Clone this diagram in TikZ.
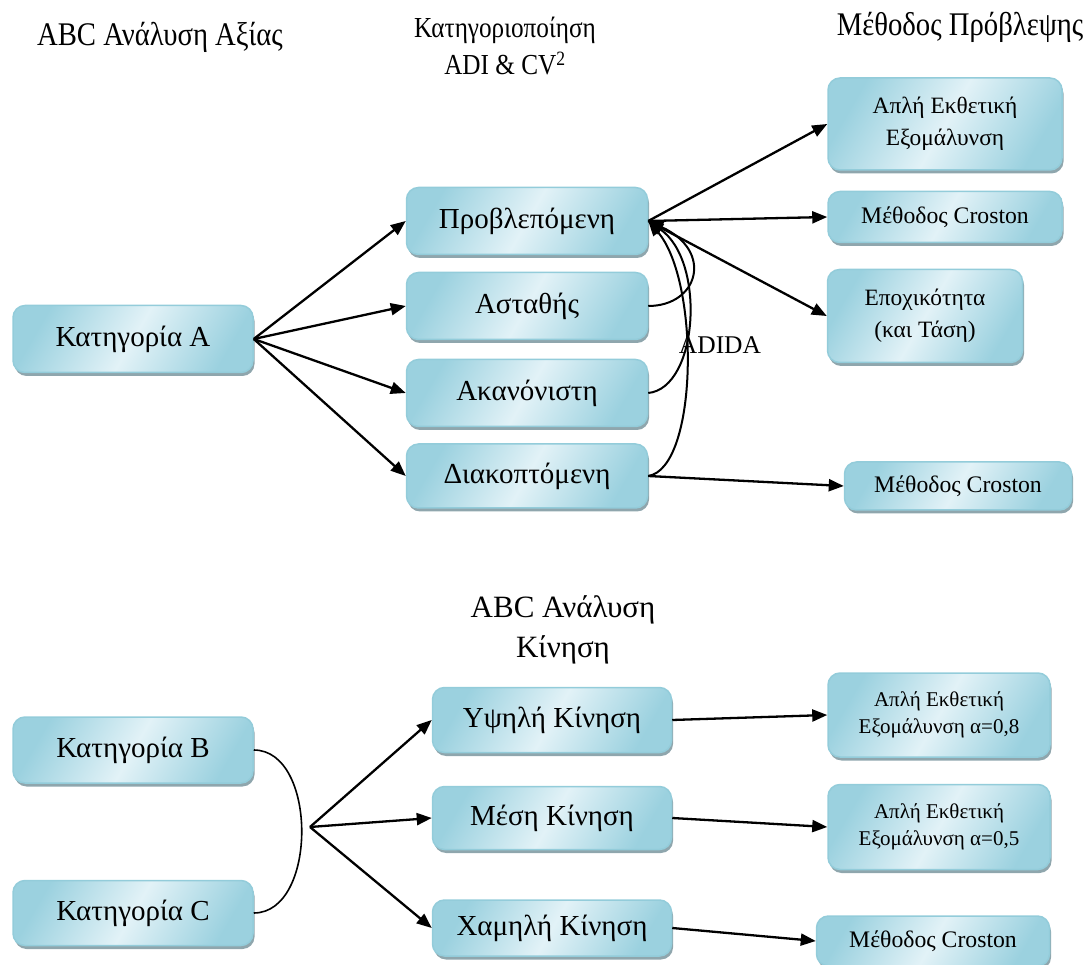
\documentclass[tikz,border=0pt]{standalone}
\usepackage{fontspec}
\setmainfont{Liberation Serif}
\newfontfamily\condfont[FakeStretch=0.87]{Liberation Serif}
\usetikzlibrary{arrows.meta,shadows}
\definecolor{bEdge}{HTML}{9BD1DF}
\definecolor{bMid}{HTML}{E2F2F7}
\definecolor{bDraw}{HTML}{93CCDA}
\definecolor{bShadow}{HTML}{8FA6AD}
\tikzset{
  box/.style={rectangle, rounded corners=12pt, draw=bDraw, line width=1.5pt,
    left color=bEdge, right color=bEdge, middle color=bMid, shading angle=60,
    drop shadow={shadow xshift=1.5pt, shadow yshift=-3.5pt, fill=bShadow, opacity=1},
    align=center, inner sep=0pt},
  bigtxt/.style={font=\fontsize{29}{32}\selectfont},
  smalltxt/.style={font=\fontsize{23.4}{32}\selectfont},
  medtxt/.style={font=\fontsize{23.7}{28}\selectfont},
  lowtxt/.style={font=\fontsize{21}{27}\selectfont},
  ttl/.style={font=\condfont\fontsize{33}{37}\selectfont, align=center},
  ttlb/.style={font=\condfont\fontsize{29}{37}\selectfont, align=center},
  arr/.style={line width=2.3pt, -{Triangle[width=12pt,length=15pt]}},
  curv/.style={line width=2pt},
}
\begin{document}
\begin{tikzpicture}[x=1pt,y=-1pt]
\useasboundingbox (0,0) rectangle (1088,965);
% titles
\node[ttl] (t1) at (160,37) {ABC Ανάλυση Αξίας};
\node[ttlb] (t2) at (505,46) {Κατηγοριοποίηση\\ADI \& CV\textsuperscript{2}};
\node[ttl] (t3) at (960,27) {Μέθοδος Πρόβλεψης};
\node[font=\fontsize{31}{40}\selectfont, align=center] (t4) at (563,630) {ABC Ανάλυση\\Κίνηση};
% upper boxes
\node[box,bigtxt,minimum width=240pt,minimum height=67pt] (a) at (133,339) {Κατηγορία Α};
\node[box,bigtxt,minimum width=241pt,minimum height=67pt] (p) at (527,221) {Προβλεπόμενη};
\node[box,bigtxt,minimum width=241pt,minimum height=67pt] (s) at (527,306) {Ασταθής};
\node[box,bigtxt,minimum width=241pt,minimum height=67pt] (k) at (527,393) {Ακανόνιστη};
\node[box,bigtxt,minimum width=241pt,minimum height=64pt] (d) at (527,476) {Διακοπτόμενη};
\node[box,smalltxt,minimum width=234pt,minimum height=92pt] (m1) at (945,124) {Απλή Εκθετική\\Εξομάλυνση};
\node[box,medtxt,minimum width=234pt,minimum height=51pt] (m2) at (945,217) {Μέθοδος Croston};
\node[box,smalltxt,minimum width=195pt,minimum height=93pt] (m3) at (925,316) {Εποχικότητα\\(και Τάση)};
\node[box,medtxt,minimum width=227pt,minimum height=48pt] (m4) at (958,486) {Μέθοδος Croston};
\node[font=\fontsize{25.5}{30}\selectfont] (adida) at (720,345) {ADIDA};
% lower boxes
\node[box,bigtxt,minimum width=240pt,minimum height=66pt] (b) at (133,750) {Κατηγορία Β};
\node[box,bigtxt,minimum width=240pt,minimum height=65pt] (c) at (133,913) {Κατηγορία C};
\node[box,bigtxt,minimum width=239pt,minimum height=65pt] (h) at (552,720) {Υψηλή Κίνηση};
\node[box,bigtxt,minimum width=239pt,minimum height=63pt] (mk) at (552,818) {Μέση Κίνηση};
\node[box,bigtxt,minimum width=239pt,minimum height=56pt] (lk) at (552,928) {Χαμηλή Κίνηση};
\node[box,lowtxt,minimum width=222pt,minimum height=84pt] (n1) at (939,715) {Απλή Εκθετική\\Εξομάλυνση α=0,8};
\node[box,lowtxt,minimum width=222pt,minimum height=85pt] (n2) at (939,827) {Απλή Εκθετική\\Εξομάλυνση α=0,5};
\node[box,medtxt,minimum width=233pt,minimum height=50pt] (n3) at (933,941) {Μέθοδος Croston};
% upper arrows
\draw[arr] (a.east) -- (p.west);
\draw[arr] (a.east) -- (s.west);
\draw[arr] (a.east) -- (k.west);
\draw[arr] (a.east) -- (d.west);
\draw[arr] (p.east) -- (m1.west);
\draw[arr] (p.east) -- (m2.west);
\draw[arr] (p.east) -- (m3.west);
\draw[arr] (d.east) -- (m4.west);
% ADIDA curves
\draw[curv,-{Triangle[width=12pt,length=15pt]}] (s.east) .. controls +(50,0) and +(66,30) .. (p.east);
\draw[curv,-{Triangle[width=12pt,length=15pt]}] (k.east) .. controls +(50,-5) and +(58,40) .. (p.east);
\draw[curv,-{Triangle[width=12pt,length=15pt]}] (d.east) .. controls +(50,-8) and +(52,60) .. (p.east);
% lower part
\coordinate (fan) at (310,827);
\draw[line width=1.6pt] (b.east) .. controls +(64,0) and +(64,0) .. (c.east);
\draw[arr] (fan) -- (h.west);
\draw[arr] (fan) -- (mk.west);
\draw[arr] (fan) -- (lk.west);
\draw[arr] (h.east) -- (n1.west);
\draw[arr] (mk.east) -- (n2.west);
\draw[arr] (lk.east) -- (n3.west);
\end{tikzpicture}
\end{document}
